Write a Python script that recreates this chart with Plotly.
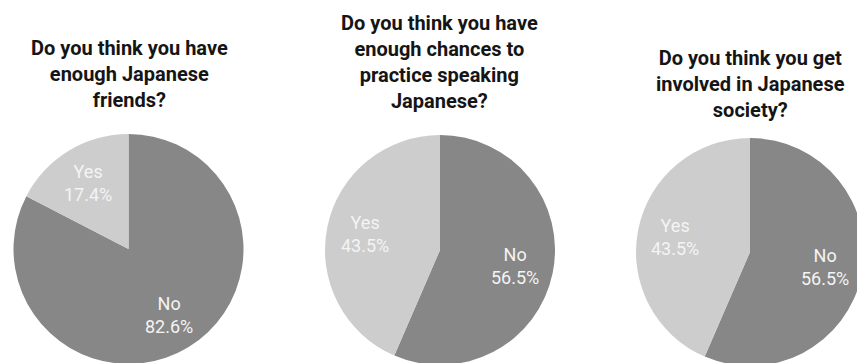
import math
import plotly.graph_objects as go

# ---- data ----
titles = [
    "Do you think you have<br>enough Japanese<br>friends?",
    "Do you think you have<br>enough chances to<br>practice speaking<br>Japanese?",
    "Do you think you get<br>involved in Japanese<br>society?",
]
labels = ["No", "Yes"]
values_friends = [82.6, 17.4]
values_practice = [56.5, 43.5]
values_society = [56.5, 43.5]
all_values = [values_friends, values_practice, values_society]

# ---- layout geometry (pixels) ----
W, H = 900, 400  # larger than the 857x363 window, so pies are clipped like the reference
pies_px = [  # (center x, center y, radius)
    (128.5, 249, 115),
    (440, 250, 115),
    (750, 252, 114),
]
title_mid_px = [74, 62, 84]
title_x_px = [129, 439, 750]
label_radius_frac = 0.67

colors = ["#878787", "#cdcdcd"]

fig = go.Figure()
for vals, (cx, cy, r) in zip(all_values, pies_px):
    fig.add_trace(go.Pie(
        labels=labels,
        values=vals,
        sort=False,
        direction="clockwise",
        rotation=0,
        marker=dict(colors=colors, line=dict(width=0)),
        textinfo="none",
        domain=dict(x=[(cx - r) / W, (cx + r) / W],
                    y=[1 - (cy + r) / H, 1 - (cy - r) / H]),
        showlegend=False,
        hoverinfo="label+percent",
    ))
    # slice labels placed at each slice's mid-angle (derived from the values)
    total = sum(vals)
    start = 0.0
    for lab, v in zip(labels, vals):
        mid = (start + v / 2) / total * 2 * math.pi  # clockwise from 12 o'clock
        start += v
        lx = cx + r * label_radius_frac * math.sin(mid)
        ly = cy - r * label_radius_frac * math.cos(mid)
        fig.add_annotation(
            text=f"{lab}<br>{v:.1f}%", x=lx / W, y=1 - ly / H,
            xref="paper", yref="paper", xanchor="center", yanchor="middle",
            showarrow=False, align="center",
            font=dict(family="Roboto", size=18, color="#f4f4f4"),
        )

for t, tx, ty in zip(titles, title_x_px, title_mid_px):
    fig.add_annotation(
        text=t, x=tx / W, y=1 - ty / H, xref="paper", yref="paper",
        xanchor="center", yanchor="middle", showarrow=False, align="center",
        font=dict(family="Roboto", size=20, color="#151515", weight="bold"),
    )

fig.update_layout(
    width=W, height=H,
    margin=dict(l=0, r=0, t=0, b=0),
    paper_bgcolor="white",
    plot_bgcolor="white",
)

fig.write_html(
    "out.html",
    post_script="document.body.style.margin='0';document.body.style.overflow='hidden';document.documentElement.style.overflow='hidden';",
)
